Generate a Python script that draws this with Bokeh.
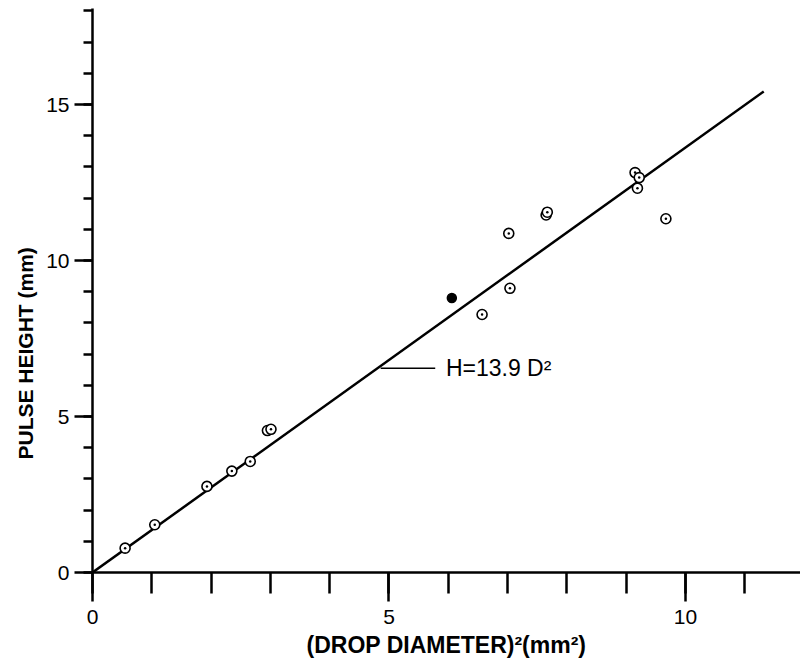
from bokeh.plotting import figure
from bokeh.models import FixedTicker, Range1d, Title
from bokeh.core.properties import value
from bokeh.embed import file_html
from bokeh.resources import INLINE

# ---- data ----
d2 = [0.55, 1.05, 1.93, 2.35, 2.66, 2.95, 3.01, 6.57, 7.02, 7.04, 7.65, 7.67, 9.15, 9.22, 9.19, 9.67]
h = [0.78, 1.53, 2.76, 3.25, 3.56, 4.55, 4.59, 8.27, 10.87, 9.11, 11.46, 11.55, 12.82, 12.66, 12.32, 11.34]
solid_d2 = [6.06]
solid_h = [8.80]
fit_d2 = [0.0, 11.32]
fit_h = [0.0, 15.42]
x_major = [0, 5, 10]
x_minor = list(range(0, 12))
y_major = [0, 5, 10, 15]
y_minor = list(range(0, 19))
x_title = "(DROP DIAMETER)²(mm²)"
y_title = "PULSE HEIGHT (mm)"
note_text = ["H=13.9 D²"]
note_leader_x = [4.86, 5.78]
note_leader_y = [6.55, 6.55]

FONT = "Liberation Sans"

p = figure(width=800, height=668, output_backend="svg", toolbar_location=None,
           x_range=Range1d(0, 11.94), y_range=Range1d(0, 18.08),
           min_border_left=92, min_border_right=0, min_border_top=8, min_border_bottom=96)
p.outline_line_color = None
p.xgrid.grid_line_color = None
p.ygrid.grid_line_color = None
p.background_fill_color = "white"

xa = p.xaxis[0]
xa.ticker = FixedTicker(ticks=x_major, minor_ticks=x_minor)
xa.axis_line_width = 2.5
xa.major_tick_line_width = 2.5
xa.minor_tick_line_width = 2.5
xa.major_tick_in = 0
xa.major_tick_out = 29
xa.minor_tick_in = 0
xa.minor_tick_out = 21
xa.major_label_text_font = FONT
xa.major_label_text_font_size = "21px"
xa.major_label_text_color = "black"
xa.major_label_standoff = 8
xa.axis_label = x_title
xa.axis_label_text_font = FONT
xa.axis_label_text_font_size = "23px"
xa.axis_label_text_font_style = "bold"
xa.axis_label_text_color = "black"
xa.axis_label_standoff = 5

ya = p.yaxis[0]
ya.ticker = FixedTicker(ticks=y_major, minor_ticks=y_minor)
ya.axis_line_width = 2.5
ya.major_tick_line_width = 2.5
ya.minor_tick_line_width = 2.5
ya.major_tick_in = 0
ya.major_tick_out = 18
ya.minor_tick_in = 0
ya.minor_tick_out = 9
ya.major_label_text_font = FONT
ya.major_label_text_font_size = "21px"
ya.major_label_text_color = "black"
ya.major_label_standoff = 5

# y-axis title placed off-centre as in the reference
p.add_layout(Title(text=y_title, align="left", offset=113, standoff=14,
                   text_font=FONT, text_font_size="21px", text_font_style="bold",
                   text_color="black"), "left")

# fitted line
p.line(fit_d2, fit_h, line_color="black", line_width=2.5)

# annotation leader + text
p.line(note_leader_x, note_leader_y, line_color="black", line_width=1.5)
p.text(x=[note_leader_x[1] + 0.18], y=[note_leader_y[0]], text=note_text,
       text_font=value(FONT), text_font_size="23px", text_baseline="middle",
       text_color="black")

# data points
p.scatter(d2, h, marker="circle_dot", size=10, fill_color="white",
          line_color="black", line_width=1.6)
p.scatter(solid_d2, solid_h, marker="circle", size=9, fill_color="black",
          line_color="black", line_width=1.5)

open("out.html", "w").write(file_html(p, INLINE))
